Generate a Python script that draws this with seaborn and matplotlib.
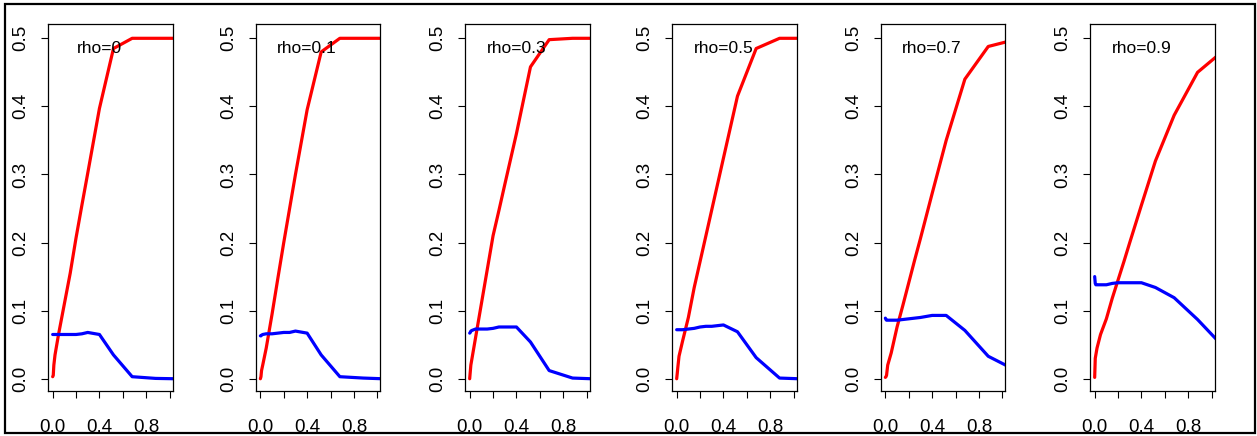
import matplotlib
matplotlib.use("Agg")
import matplotlib.pyplot as plt
import seaborn as sns
import pandas as pd
from matplotlib.patches import Rectangle

# ---- data ----
rho_labels = ["rho=0", "rho=0.1", "rho=0.3", "rho=0.5", "rho=0.7", "rho=0.9"]
x_grid = [0, 0.005, 0.01, 0.02, 0.05, 0.1, 0.15, 0.2, 0.25, 0.3, 0.4, 0.52, 0.68, 0.88, 1.04]

red_0 = [0.003, 0.005, 0.02, 0.035, 0.065, 0.11, 0.155, 0.207, 0.255, 0.302, 0.397, 0.485, 0.5, 0.5, 0.5]
blue_0 = [0.065, 0.065, 0.065, 0.065, 0.065, 0.065, 0.065, 0.065, 0.066, 0.068, 0.065, 0.035, 0.003, 0.0005, 0.0]

red_1 = [0.0, 0.003, 0.012, 0.02, 0.045, 0.095, 0.148, 0.2, 0.25, 0.3, 0.395, 0.48, 0.5, 0.5, 0.5]
blue_1 = [0.063, 0.063, 0.064, 0.065, 0.066, 0.066, 0.067, 0.068, 0.068, 0.07, 0.067, 0.035, 0.003, 0.001, 0.0]

red_3 = [0.0, 0.01, 0.02, 0.03, 0.06, 0.11, 0.16, 0.21, 0.247, 0.285, 0.36, 0.458, 0.498, 0.5, 0.5]
blue_3 = [0.067, 0.068, 0.07, 0.071, 0.073, 0.073, 0.073, 0.074, 0.076, 0.076, 0.076, 0.054, 0.012, 0.001, 0.0]

red_5 = [0.0, 0.008, 0.017, 0.033, 0.055, 0.09, 0.134, 0.172, 0.21, 0.248, 0.324, 0.415, 0.485, 0.5, 0.5]
blue_5 = [0.072, 0.072, 0.072, 0.072, 0.072, 0.073, 0.074, 0.076, 0.077, 0.077, 0.079, 0.069, 0.031, 0.001, 0.0]

red_7 = [0.002, 0.003, 0.005, 0.02, 0.038, 0.076, 0.108, 0.141, 0.174, 0.206, 0.272, 0.35, 0.44, 0.488, 0.495]
blue_7 = [0.089, 0.087, 0.086, 0.086, 0.086, 0.086, 0.087, 0.088, 0.089, 0.09, 0.093, 0.093, 0.071, 0.033, 0.019]

red_9 = [0.002, 0.03, 0.035, 0.045, 0.065, 0.088, 0.118, 0.145, 0.172, 0.2, 0.255, 0.32, 0.387, 0.45, 0.473]
blue_9 = [0.15, 0.14, 0.138, 0.138, 0.138, 0.138, 0.14, 0.141, 0.141, 0.141, 0.141, 0.134, 0.119, 0.087, 0.058]

reds = [red_0, red_1, red_3, red_5, red_7, red_9]
blues = [blue_0, blue_1, blue_3, blue_5, blue_7, blue_9]

x_ticks = [0.0, 0.2, 0.4, 0.6, 0.8, 1.0]
x_ticklabels = ["0.0", "", "0.4", "", "0.8", ""]
y_ticks = [0.0, 0.1, 0.2, 0.3, 0.4, 0.5]
y_ticklabels = ["0.0", "0.1", "0.2", "0.3", "0.4", "0.5"]

# ---- figure ----
sns.set_style("ticks")
plt.rcParams["font.family"] = ["Liberation Sans", "DejaVu Sans"]

W, H = 1257, 436
fig = plt.figure(figsize=(W / 100, H / 100), dpi=100)

fig.patches.append(Rectangle((5 / W, 3 / H), 1250 / W, 429 / H, transform=fig.transFigure,
                             fill=False, edgecolor="black", linewidth=1.6, zorder=0))

lefts = [48, 255.7, 465, 672, 880.7, 1090]
ax_w = 124.5
top_px, bot_px = 24, 391

for i in range(6):
    ax = fig.add_axes([lefts[i] / W, 1 - bot_px / H, ax_w / W, (bot_px - top_px) / H])
    df = pd.DataFrame({"x": x_grid, "red": reds[i], "blue": blues[i]})
    sns.lineplot(data=df, x="x", y="red", ax=ax, color="#FF0000", linewidth=2.3,
                 estimator=None, sort=False)
    sns.lineplot(data=df, x="x", y="blue", ax=ax, color="#0000FF", linewidth=2.3,
                 estimator=None, sort=False)
    ax.set_xlim(-0.04, 1.025)
    ax.set_ylim(-0.018, 0.521)
    ax.set_xlabel("")
    ax.set_ylabel("")
    ax.set_xticks(x_ticks)
    ax.set_xticklabels(x_ticklabels)
    ax.set_yticks(y_ticks)
    ax.set_yticklabels(y_ticklabels, rotation=90, va="center")
    ax.tick_params(axis="both", direction="out", length=5, width=0.8, labelsize=13.5,
                   color="black", labelcolor="black")
    ax.tick_params(axis="x", pad=15)
    ax.tick_params(axis="y", pad=8.5)
    for s in ax.spines.values():
        s.set_visible(True)
        s.set_linewidth(0.9)
        s.set_color("black")
    ax.text(0.4, 0.485, rho_labels[i], ha="center", va="center", fontsize=12.5, color="black")

fig.savefig("out.png", dpi=100)
